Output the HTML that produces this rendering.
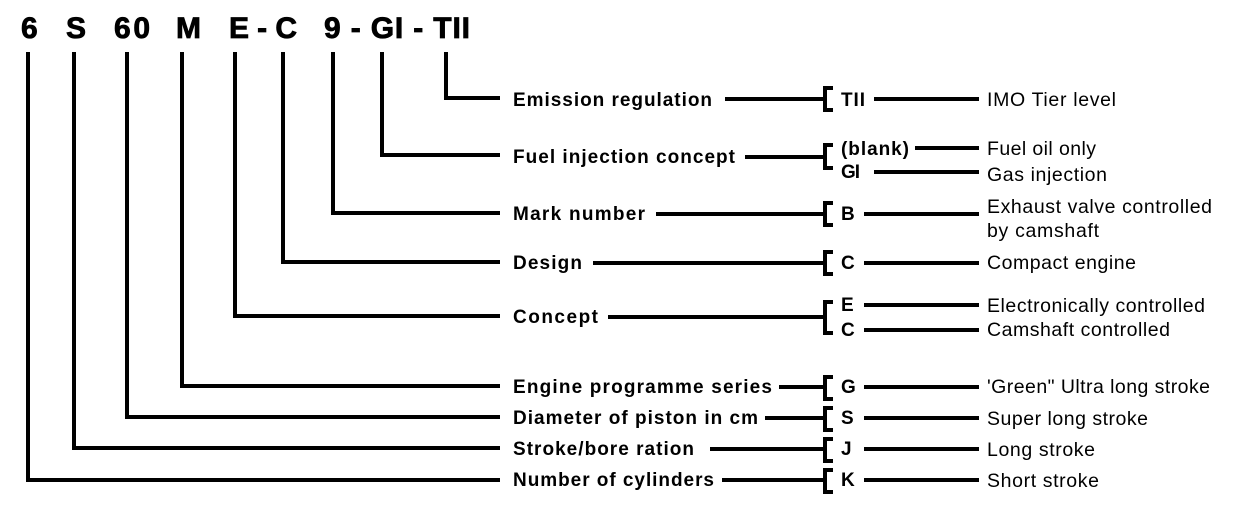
<!DOCTYPE html>
<html><head><meta charset="utf-8"><style>
html,body{margin:0;padding:0;background:#fff;}
svg{display:block;}
.h{font:bold 30px "Liberation Sans",sans-serif;stroke:#000;stroke-width:0.8;}
.l{font:bold 19px "Liberation Sans",sans-serif;}
.d{font:19.5px "Liberation Sans",sans-serif;}
</style></head><body>
<svg width="1241" height="521" viewBox="0 0 1241 521" xmlns="http://www.w3.org/2000/svg">
<g fill="#000">
<text class="h" x="21" y="38" textLength="18">6</text>
<text class="h" x="66" y="38" textLength="20">S</text>
<text class="h" x="114" y="38" textLength="36">60</text>
<text class="h" x="176" y="38" textLength="26">M</text>
<text class="h" x="229" y="38" textLength="68">E - C</text>
<text class="h" x="324" y="38" textLength="146">9 - GI - TII</text>
</g>
<g stroke="#000" stroke-width="4" fill="none" stroke-linecap="butt">
<polyline points="446,52 446,98 500,98"/>
<polyline points="382,52 382,155 500,155"/>
<polyline points="333,52 333,213 500,213"/>
<polyline points="283,52 283,262 500,262"/>
<polyline points="235,52 235,316 500,316"/>
<polyline points="182,52 182,386 500,386"/>
<polyline points="127,52 127,417 500,417"/>
<polyline points="74,52 74,448 500,448"/>
<polyline points="28,52 28,480 500,480"/>
<line x1="725" y1="99" x2="825" y2="99"/>
<line x1="745" y1="157" x2="825" y2="157"/>
<line x1="656" y1="214" x2="825" y2="214"/>
<line x1="593" y1="263" x2="825" y2="263"/>
<line x1="608" y1="317" x2="825" y2="317"/>
<line x1="779" y1="387" x2="825" y2="387"/>
<line x1="765" y1="418" x2="825" y2="418"/>
<line x1="710" y1="449" x2="825" y2="449"/>
<line x1="722" y1="480" x2="825" y2="480"/>
<polyline points="833,88 825,88 825,110 833,110"/>
<polyline points="833,145 825,145 825,168 833,168"/>
<polyline points="833,203 825,203 825,225 833,225"/>
<polyline points="833,252 825,252 825,274 833,274"/>
<polyline points="833,302 825,302 825,333 833,333"/>
<polyline points="833,377 825,377 825,399 833,399"/>
<polyline points="833,408 825,408 825,430 833,430"/>
<polyline points="833,439 825,439 825,461 833,461"/>
<polyline points="833,470 825,470 825,492 833,492"/>
<line x1="874" y1="99" x2="979" y2="99"/>
<line x1="915" y1="148" x2="979" y2="148"/>
<line x1="874" y1="172" x2="979" y2="172"/>
<line x1="864" y1="214" x2="979" y2="214"/>
<line x1="864" y1="263" x2="979" y2="263"/>
<line x1="864" y1="305" x2="979" y2="305"/>
<line x1="864" y1="330" x2="979" y2="330"/>
<line x1="864" y1="387" x2="979" y2="387"/>
<line x1="864" y1="418" x2="979" y2="418"/>
<line x1="864" y1="449" x2="979" y2="449"/>
<line x1="864" y1="480" x2="979" y2="480"/>
</g>
<g fill="#000">
<text class="l" x="513" y="106" textLength="199">Emission regulation</text>
<text class="l" x="513" y="163" textLength="222">Fuel injection concept</text>
<text class="l" x="513" y="220" textLength="132">Mark number</text>
<text class="l" x="513" y="269" textLength="69">Design</text>
<text class="l" x="513" y="323" textLength="85">Concept</text>
<text class="l" x="513" y="393" textLength="259">Engine programme series</text>
<text class="l" x="513" y="424" textLength="245">Diameter of piston in cm</text>
<text class="l" x="513" y="455" textLength="181">Stroke/bore ration</text>
<text class="l" x="513" y="486" textLength="201">Number of cylinders</text>

<text class="l" x="841" y="106" textLength="24">TII</text>
<text class="l" x="841" y="155" textLength="68">(blank)</text>
<text class="l" x="841" y="178" textLength="19">GI</text>
<text class="l" x="841" y="220">B</text>
<text class="l" x="841" y="269">C</text>
<text class="l" x="841" y="311">E</text>
<text class="l" x="841" y="336">C</text>
<text class="l" x="841" y="393">G</text>
<text class="l" x="841" y="424">S</text>
<text class="l" x="841" y="455">J</text>
<text class="l" x="841" y="486">K</text>

<text class="d" x="987" y="106" textLength="129">IMO Tier level</text>
<text class="d" x="987" y="155" textLength="109">Fuel oil only</text>
<text class="d" x="987" y="181" textLength="120">Gas injection</text>
<text class="d" x="987" y="213" textLength="225">Exhaust valve controlled</text>
<text class="d" x="987" y="237" textLength="112">by camshaft</text>
<text class="d" x="987" y="269" textLength="149">Compact engine</text>
<text class="d" x="987" y="312" textLength="218">Electronically controlled</text>
<text class="d" x="987" y="336" textLength="183">Camshaft controlled</text>
<text class="d" x="987" y="393" textLength="223">'Green" Ultra long stroke</text>
<text class="d" x="987" y="425" textLength="161">Super long stroke</text>
<text class="d" x="987" y="456" textLength="108">Long stroke</text>
<text class="d" x="987" y="487" textLength="112">Short stroke</text>
</g>
</svg>
</body></html>
